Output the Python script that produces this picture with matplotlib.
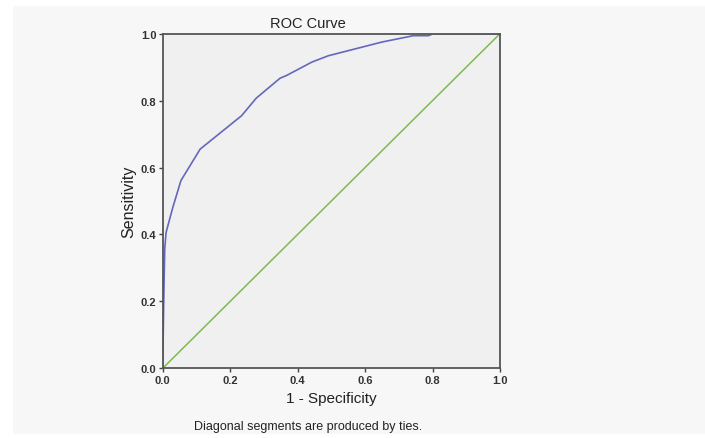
import matplotlib.pyplot as plt
from matplotlib.patches import Rectangle

plt.rcParams['font.family'] = ['Liberation Sans', 'DejaVu Sans']

# ROC curve points
fpr = [0.0, 0.003, 0.006, 0.010, 0.030, 0.054, 0.111, 0.234, 0.277,
       0.348, 0.367, 0.442, 0.491, 0.650, 0.743, 0.788, 0.802, 1.0]
tpr = [0.0, 0.200, 0.357, 0.406, 0.481, 0.561, 0.655, 0.755, 0.807,
       0.867, 0.875, 0.915, 0.934, 0.975, 0.994, 0.994, 1.0, 1.0]
ref_line = [0.0, 1.0]
ticks = [0.0, 0.2, 0.4, 0.6, 0.8, 1.0]

fig = plt.figure(figsize=(7.05, 4.39), dpi=100, facecolor='white')
# fondo gris claro como en la captura
fig.patches.append(Rectangle((13 / 705, 0.01), 1, 0.975, transform=fig.transFigure,
                             facecolor='#f7f7f7', edgecolor='none', zorder=-1))

ax = fig.add_axes([0.2308, 0.1588, 0.4784, 0.7622])
ax.set_facecolor('#eff0ef')
ax.plot(ref_line, ref_line, color='#7dbb4f', lw=1.1)
ax.plot(fpr, tpr, color='#6468bd', lw=1.2)

ax.set_xlim(0, 1)
ax.set_ylim(0, 1)
ax.set_xticks(ticks)
ax.set_yticks(ticks)
ax.set_xticklabels([f'{t:.1f}' for t in ticks], fontsize=8, fontweight='bold', color='#333333')
ax.set_yticklabels([f'{t:.1f}' for t in ticks], fontsize=8, fontweight='bold', color='#333333')
ax.tick_params(direction='out', length=3, width=1, color='#444444', pad=1.5)
for s in ax.spines.values():
    s.set_color('#555555')
    s.set_linewidth(1.3)

ax.set_xlabel('1 - Specificity', fontsize=11, color='#222222', labelpad=5)
ax.set_ylabel('Sensitivity', fontsize=11.5, color='#222222', labelpad=3)

fig.text(308 / 705, 1 - 24 / 439, 'ROC Curve', ha='center', va='center', fontsize=10.5, color='#222222')
fig.text(308 / 705, 1 - 427 / 439, 'Diagonal segments are produced by ties.',
         ha='center', va='center', fontsize=9, color='#222222')

plt.savefig('out.png', dpi=100, facecolor=fig.get_facecolor())
plt.close()
